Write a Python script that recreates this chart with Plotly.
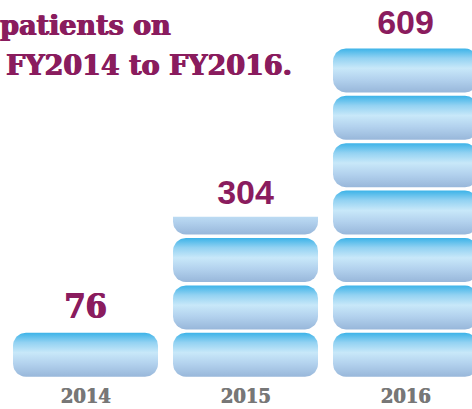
import plotly.graph_objects as go
import math

# ---- data ----
years = ["2014", "2015", "2016"]
values = [76, 304, 609]
pill_units = [1.0, 3.41, 7.0]   # number of pill icons drawn per year
title_lines = ["patients on", "FY2014 to FY2016."]

MAGENTA = "#8a1c5e"
GRAY = "#777777"
W, H = 472, 409

# axis geometry (pixel-per-unit)
PX_X = 160.0
PX_Y = 47.4
x_left = -85.5 / PX_X
x_right = (W - 85.5) / PX_X
y_bottom = -(H - 378.5) / PX_Y
y_top = 378.5 / PX_Y

PILL_W = 145 / PX_X
GAP = 1.7 / PX_Y
RX = 13 / PX_X
RY = 13 / PX_Y


def rounded_rect(xc, y0, y1, n=14):
    x0, x1 = xc - PILL_W / 2, xc + PILL_W / 2
    pts = []
    corners = [
        (x1 - RX, y0 + RY, -90, 0),
        (x1 - RX, y1 - RY, 0, 90),
        (x0 + RX, y1 - RY, 90, 180),
        (x0 + RX, y0 + RY, 180, 270),
    ]
    for cx, cy, a0, a1 in corners:
        for j in range(n + 1):
            a = math.radians(a0 + (a1 - a0) * j / n)
            pts.append((cx + RX * math.cos(a), cy + RY * math.sin(a)))
    return pts


def clip_top(pts, ytop):
    out = []
    m = len(pts)
    for k in range(m):
        p, q = pts[k], pts[(k + 1) % m]
        pin, qin = p[1] <= ytop, q[1] <= ytop
        if pin:
            out.append(p)
        if pin != qin:
            t = (ytop - p[1]) / (q[1] - p[1])
            out.append((p[0] + t * (q[0] - p[0]), ytop))
    return out


COLORSCALE = [
    [0.0, "#98b7da"],
    [0.3, "#b3d2ee"],
    [0.55, "#c8e8f9"],
    [0.78, "#93d2f2"],
    [1.0, "#3cb3e8"],
]

fig = go.Figure()

for i, u in enumerate(pill_units):
    full = int(u)
    frac = u - full
    segs = [(k, None) for k in range(full)]
    if frac > 0.01:
        segs.append((full, full + frac))
    for k, cut in segs:
        y0, y1 = k + GAP, k + 1 - GAP
        pts = rounded_rect(i, y0, y1)
        if cut is not None:
            pts = clip_top(pts, cut)
        xs = [p[0] for p in pts] + [pts[0][0]]
        ys = [p[1] for p in pts] + [pts[0][1]]
        fig.add_trace(go.Scatter(
            x=xs, y=ys, mode="lines", fill="toself",
            line=dict(width=0, color="rgba(0,0,0,0)"),
            fillgradient=dict(type="vertical", colorscale=COLORSCALE, start=y0, stop=y1),
            hoverinfo="skip", showlegend=False,
        ))

heavy_m = "0.8px 0 0 %s, -0.4px 0 0 %s" % (MAGENTA, MAGENTA)
heavy_g = "0.7px 0 0 %s" % GRAY

# value labels
label_fonts = [
    dict(family="DejaVu Serif Condensed, DejaVu Serif", size=34, color=MAGENTA, weight="bold", shadow=heavy_m),
    dict(family="Liberation Sans, Arial", size=34, color=MAGENTA, weight="bold"),
    dict(family="Liberation Sans, Arial", size=34, color=MAGENTA, weight="bold"),
]
for i, (v, u) in enumerate(zip(values, pill_units)):
    fig.add_trace(go.Scatter(
        x=[i], y=[u + 0.45], mode="text", text=[str(v)],
        textposition="middle center", textfont=label_fonts[i],
        hoverinfo="skip", showlegend=False,
    ))

# year labels
fig.add_trace(go.Scatter(
    x=list(range(len(years))), y=[-0.42] * len(years), mode="text", text=years,
    textposition="middle center",
    textfont=dict(family="DejaVu Serif Condensed, DejaVu Serif", size=20, color=GRAY,
                  weight="bold", shadow=heavy_g),
    hoverinfo="skip", showlegend=False,
))

# title fragments
fig.add_annotation(x=-2 / W, y=1 - 26 / H, xref="paper", yref="paper", text=title_lines[0],
                   showarrow=False, xanchor="left", yanchor="middle",
                   font=dict(family="DejaVu Serif", size=27, color=MAGENTA, weight="bold", shadow=heavy_m))
fig.add_annotation(x=4 / W, y=1 - 66 / H, xref="paper", yref="paper", text=title_lines[1],
                   showarrow=False, xanchor="left", yanchor="middle",
                   font=dict(family="DejaVu Serif", size=27, color=MAGENTA, weight="bold", shadow=heavy_m))

fig.update_layout(
    width=W, height=H,
    margin=dict(l=0, r=0, t=0, b=0),
    paper_bgcolor="white", plot_bgcolor="white",
    xaxis=dict(range=[x_left, x_right], visible=False, fixedrange=True),
    yaxis=dict(range=[y_bottom, y_top], visible=False, fixedrange=True),
    showlegend=False,
)

fig.write_html("out.html", config={"displayModeBar": False},
               post_script="document.body.style.margin='0';document.body.style.overflow='hidden';")
